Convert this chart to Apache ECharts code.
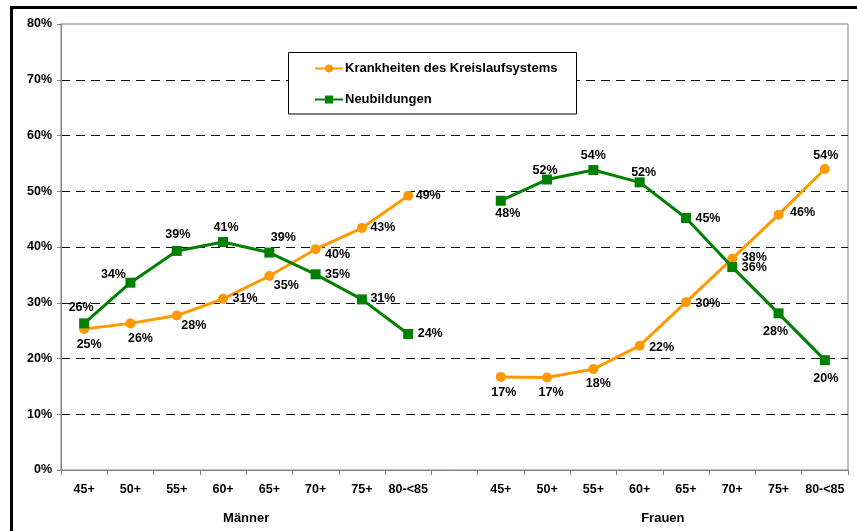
<!DOCTYPE html>
<html>
<head>
<meta charset="utf-8">
<script src="https://cdn.jsdelivr.net/npm/echarts@6/dist/echarts.min.js"></script>
<style>html,body{margin:0;padding:0;background:#fff}#c{width:857px;height:531px}</style>
</head>
<body>
<div id="c"></div>
<script>
// ---- data ----
var ageGroups = ['45+', '50+', '55+', '60+', '65+', '70+', '75+', '80-<85'];
var groupNames = ['Männer', 'Frauen'];
var seriesNames = ['Krankheiten des Kreislaufsystems', 'Neubildungen'];
var maennerKreislauf = [25.3, 26.3, 27.7, 30.7, 34.8, 39.6, 43.4, 49.2];
var maennerNeubildungen = [26.3, 33.6, 39.3, 40.9, 39.0, 35.1, 30.6, 24.4];
var frauenKreislauf = [16.7, 16.6, 18.1, 22.3, 30.1, 37.9, 45.8, 54.0];
var frauenNeubildungen = [48.3, 52.1, 53.8, 51.6, 45.2, 36.4, 28.1, 19.7];
var yTicks = [0, 10, 20, 30, 40, 50, 60, 70, 80];

// ---- label placement (offsets from the marker centre, px) ----
var offKreislauf = [[5,16],[10,15],[17,10],[22,0],[17,10],[22,5],[21,0],[20,0],
                    null,
                    [3,16],[4,15],[5,14],[22,2],[22,1],[22,-1],[24,-2],[1,-13]];
var offNeubildungen = [[-3,-16],[-17,-8],[1,-16],[3,-14],[14,-15],[22,0],[21,-1],[22,0],
                    null,
                    [7,13],[-2,-9],[0,-15],[4,-10],[22,1],[22,0],[-3,18],[1,18]];

var categories = ageGroups.concat(['']).concat(ageGroups);
function join(a, b) { return a.concat([null]).concat(b); }
function buildData(vals, offs) {
  return vals.map(function (v, i) {
    if (v === null) return null;
    return { value: v, label: { offset: offs[i] } };
  });
}

var FONT = 'Arial, "Liberation Sans", sans-serif';
var chart = echarts.init(document.getElementById('c'));
var gridColors = yTicks.map(function (t, i) {
  return (i === 0 || i === yTicks.length - 1) ? 'rgba(0,0,0,0)' : '#111';
});

var labelCfg = {
  show: true, position: 'inside', color: '#000',
  fontFamily: FONT, fontWeight: 'bold', fontSize: 12.5,
  formatter: function (p) { return Math.round(p.value) + '%'; }
};

chart.setOption({
  animation: false,
  backgroundColor: '#fff',
  grid: { left: 61, right: 9, top: 24, bottom: 61, show: true, borderColor: '#808080', borderWidth: 1, backgroundColor: 'transparent' },
  legend: {
    orient: 'vertical', left: 314, top: 62, itemGap: 18, itemWidth: 28, itemHeight: 10,
    padding: 0,
    textStyle: { fontFamily: FONT, fontWeight: 'bold', fontSize: 13, color: '#000', padding: [0,0,0,-3] },
    data: seriesNames
  },
  xAxis: [{
    type: 'category', data: categories, boundaryGap: true,
    axisLine: { lineStyle: { color: '#808080', width: 1 } },
    axisTick: { show: true, interval: 0, length: 5, lineStyle: { color: '#808080' } },
    axisLabel: { interval: 0, margin: 13, color: '#000', fontFamily: FONT, fontWeight: 'bold', fontSize: 12.5 },
    splitLine: { show: false }
  }, {
    type: 'value', min: 0, max: 17, interval: 1, position: 'bottom',
    axisLine: { show: false }, axisTick: { show: false }, splitLine: { show: false },
    axisLabel: {
      margin: 42, color: '#000', fontFamily: FONT, fontWeight: 'bold', fontSize: 13,
      formatter: function (v) { return v === 4 ? groupNames[0] : (v === 13 ? groupNames[1] : ''); }
    }
  }],
  yAxis: {
    type: 'value', min: 0, max: 80, interval: 10,
    axisLine: { show: true, lineStyle: { color: '#808080', width: 1 } },
    axisTick: { show: true, length: 4, lineStyle: { color: '#808080' } },
    axisLabel: { margin: 9, color: '#000', fontFamily: FONT, fontWeight: 'bold', fontSize: 12.5, formatter: '{value}%' },
    splitLine: { show: true, lineStyle: { color: gridColors, type: [9, 6], width: 1 } }
  },
  graphic: [
    { type: 'rect', z: -10, silent: true, shape: { x: 11.5, y: 7.5, width: 900, height: 600 },
      style: { fill: 'none', stroke: '#000', lineWidth: 3 } },
    { type: 'rect', z: 3, silent: true, shape: { x: 288.5, y: 52.5, width: 288, height: 61.5 },
      style: { fill: '#fff', stroke: '#000', lineWidth: 1 } }
  ],
  series: [{
    name: seriesNames[0], type: 'line', xAxisIndex: 0,
    data: buildData(join(maennerKreislauf, frauenKreislauf), offKreislauf),
    connectNulls: false,
    symbol: 'circle', symbolSize: 10,
    itemStyle: { color: '#FF9900' }, lineStyle: { color: '#FF9900', width: 3 },
    label: labelCfg, z: 5
  }, {
    name: seriesNames[1], type: 'line', xAxisIndex: 0,
    data: buildData(join(maennerNeubildungen, frauenNeubildungen), offNeubildungen),
    connectNulls: false,
    symbol: 'rect', symbolSize: 10,
    itemStyle: { color: '#008000' }, lineStyle: { color: '#008000', width: 3 },
    label: labelCfg, z: 6
  }]
});
</script>
</body>
</html>
